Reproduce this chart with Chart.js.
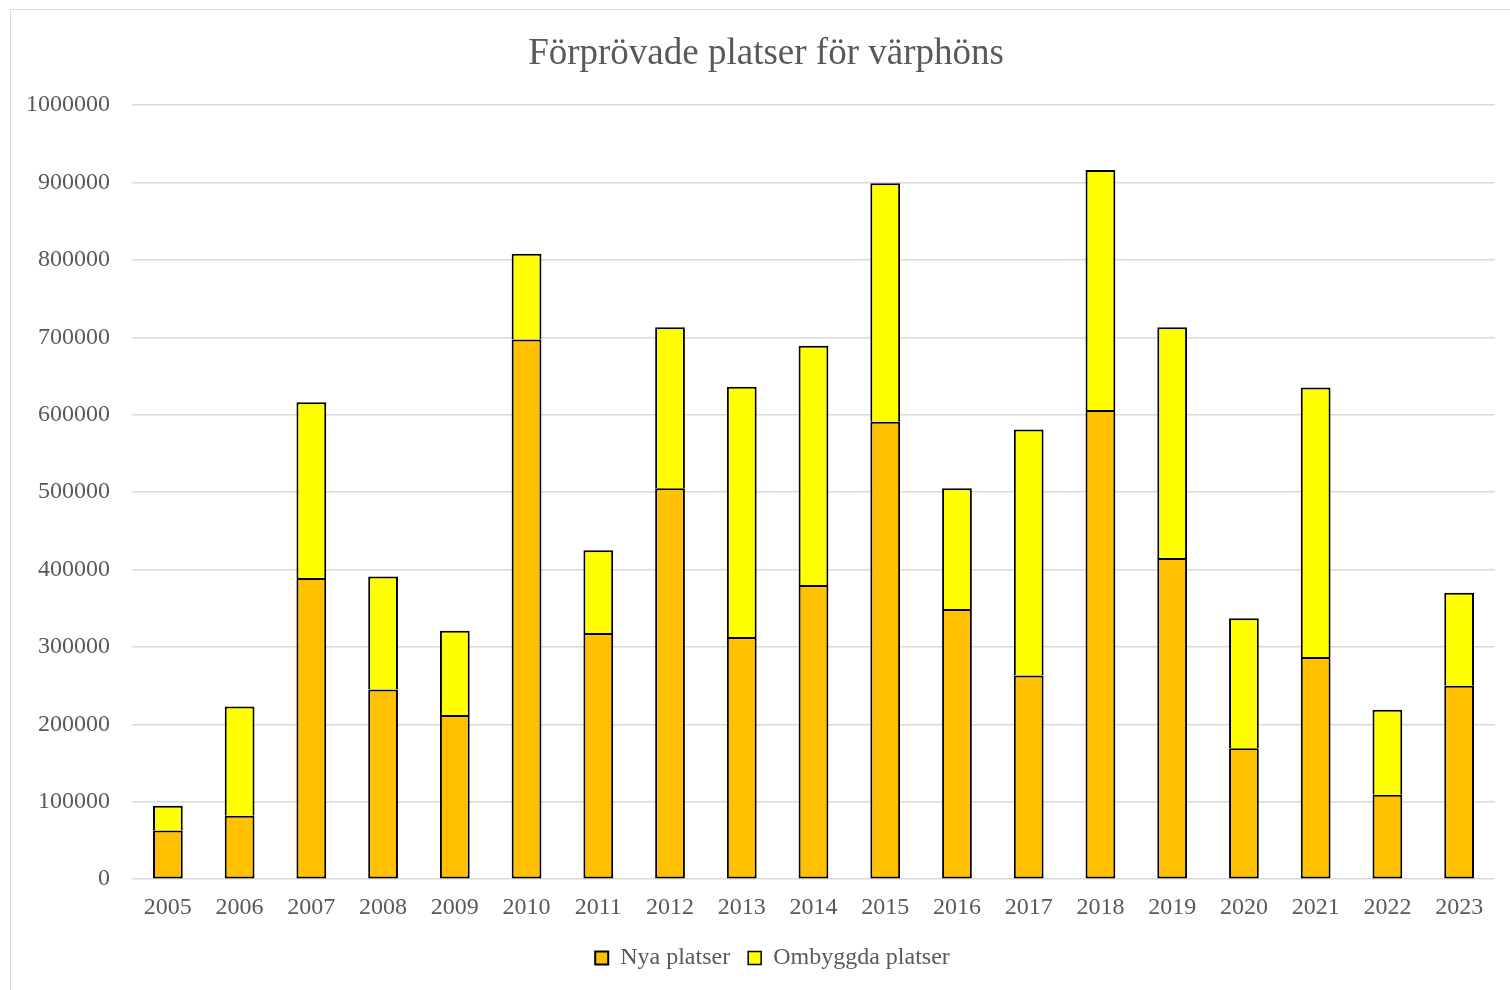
<!DOCTYPE html>
<html>
<head>
<meta charset="utf-8">
<script src="https://cdn.jsdelivr.net/npm/chart.js@4.4.1/dist/chart.umd.min.js"></script>
<style>
  body { margin: 0; background: #fff; overflow: hidden; }
  #wrap { position: relative; width: 1510px; height: 990px; overflow: hidden; }
  #frame { position: absolute; left: 10px; top: 9px; width: 1520px; height: 990px; border: 1px solid #d9d9d9; box-sizing: border-box; }
  #title { position: absolute; left: 0; top: 30px; width: 1532px; height: 44px; line-height: 44px; text-align: center;
           font-family: 'Liberation Serif', 'Times New Roman', serif; font-size: 37px; color: #595959; }
  canvas { position: absolute; left: 0; top: 0; }
</style>
</head>
<body>
<div id="wrap">
  <div id="frame"></div>
  <canvas id="myChart" width="1510" height="990"></canvas>
  <div id="title">Förprövade platser för värphöns</div>
</div>
<script>
// årtal
var years = ['2005','2006','2007','2008','2009','2010','2011','2012','2013','2014',
             '2015','2016','2017','2018','2019','2020','2021','2022','2023'];
// nya platser
var nyaPlatser = [63000, 82000, 389000, 245000, 212000, 697000, 318000, 505000, 313000, 380000,
                  591000, 349000, 263000, 606000, 415000, 169000, 287000, 109000, 250000];
// ombyggda platser
var ombyggdaPlatser = [32000, 141000, 227000, 146000, 109000, 111000, 107000, 208000, 323000, 309000,
                       308000, 156000, 318000, 310000, 298000, 168000, 348000, 110000, 120000];
var yMax = 1000000;
var yStep = 100000;

var serif = "'Liberation Serif', 'Times New Roman', serif";
var grey = '#595959';

// flytta legenden lite åt höger (som i originalet)
var legendShift = {
  id: 'legendShift',
  beforeDraw: function(chart) {
    var lg = chart.legend;
    if (lg && !lg._shifted) {
      lg.left += 20;
      lg.right += 20;
      lg._shifted = true;
    }
  }
};

var ctx = document.getElementById('myChart').getContext('2d');
var myChart = new Chart(ctx, {
  type: 'bar',
  data: {
    labels: years,
    datasets: [{
      label: 'Nya platser',
      data: nyaPlatser,
      backgroundColor: '#ffc000',
      borderColor: '#000000',
      borderWidth: { top: 2, left: 2, right: 2, bottom: 2 },
      borderSkipped: false
    }, {
      label: 'Ombyggda platser',
      data: ombyggdaPlatser,
      backgroundColor: '#ffff00',
      borderColor: '#000000',
      borderWidth: { top: 2, left: 2, right: 2, bottom: 0 },
      borderSkipped: false
    }]
  },
  options: {
    responsive: false,
    animation: false,
    barPercentage: 0.83,
    categoryPercentage: 0.5,
    layout: { padding: { left: 10, right: 15, top: 105, bottom: 10 } },
    plugins: {
      title: { display: false },
      legend: {
        position: 'bottom',
        labels: {
          color: grey,
          font: { family: serif, size: 24 },
          boxWidth: 13,
          boxHeight: 13,
          padding: 18
        }
      },
      tooltip: { enabled: false }
    },
    scales: {
      x: {
        stacked: true,
        grid: { display: false },
        border: { display: false },
        ticks: { color: grey, font: { family: serif, size: 24 }, padding: 6, maxRotation: 0 }
      },
      y: {
        stacked: true,
        min: 0,
        max: yMax,
        afterFit: function(axis) { axis.width = 122; },
        grid: { color: '#d9d9d9', lineWidth: 1.5, drawTicks: false, tickLength: 0 },
        border: { display: false },
        ticks: {
          stepSize: yStep,
          color: grey,
          font: { family: serif, size: 24 },
          padding: 22,
          callback: function(value) { return String(value); }
        }
      }
    }
  },
  plugins: [legendShift]
});
</script>
</body>
</html>
